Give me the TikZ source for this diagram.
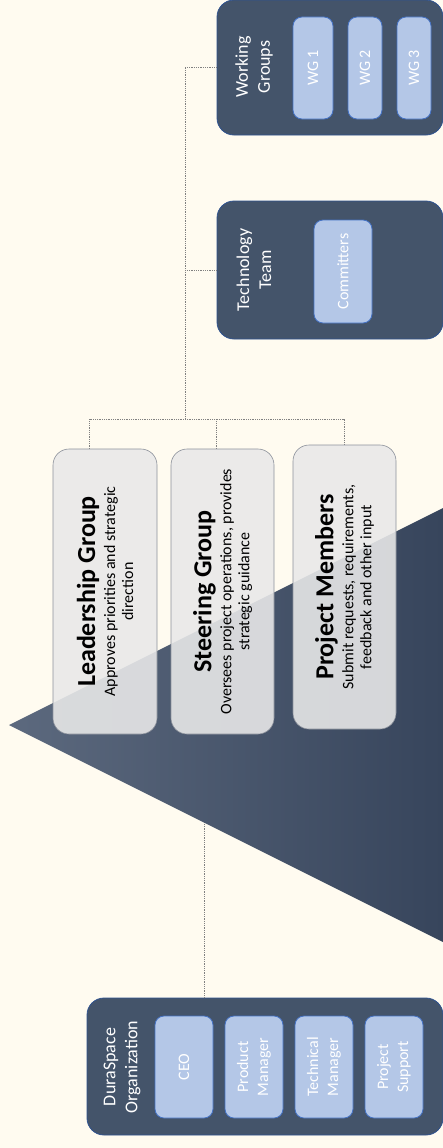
\documentclass[tikz,border=0pt]{standalone}
\usepackage{fontspec}
\setmainfont{Carlito}
\usetikzlibrary{calc}

\definecolor{paper}{RGB}{255,251,240}
\definecolor{slate}{RGB}{68,84,106}
\definecolor{slateedge}{RGB}{47,82,143}
\definecolor{paleblue}{RGB}{180,199,231}
\definecolor{paleedge}{RGB}{68,114,196}
\definecolor{cardfill}{RGB}{233,233,233}
\definecolor{cardedge}{RGB}{140,145,155}
\definecolor{wedgeL}{RGB}{92,105,126}
\definecolor{wedgeR}{RGB}{55,69,92}
\definecolor{linkgray}{RGB}{128,128,128}

\begin{document}
\begin{tikzpicture}[x=1pt,y=-1pt,
  team/.style={draw=slateedge, line width=0.8pt, fill=slate, rounded corners=17pt, inner sep=0pt},
  teamlabel/.style={rotate=90, text=white, align=center, font=\fontsize{18}{22}\selectfont, inner sep=0pt},
  role/.style={draw=paleedge, line width=0.8pt, fill=paleblue, rounded corners=9pt, rotate=90,
    text=white, align=center, font=\fontsize{16}{20}\selectfont, inner sep=0pt},
  card/.style={draw=cardedge, line width=0.6pt, fill=cardfill, fill opacity=0.89, text opacity=1,
    rounded corners=16pt, rotate=90, align=center, font=\fontsize{16}{18}\selectfont, inner sep=0pt},
  link/.style={draw=linkgray, line width=0.8pt, densely dotted}
]
% page
\useasboundingbox (0,0) rectangle (443,1148);
\fill[paper] (0,0) rectangle (443,1148);

% teams on the right
\node[team, minimum width=226pt, minimum height=135pt] (wg) at (330,67.5) {};
\node[teamlabel] (wgt) at (254,67) {Working\\Groups};
\node[role, minimum width=102pt, minimum height=40pt] (wg1) at (313,68) {WG 1};
\node[role, minimum width=102pt, minimum height=34pt] (wg2) at (365,68) {WG 2};
\node[role, minimum width=102pt, minimum height=34pt] (wg3) at (414,68) {WG 3};

\node[team, minimum width=226pt, minimum height=138pt] (tech) at (330,270) {};
\node[teamlabel] (techt) at (254,270) {Technology\\Team};
\node[role, minimum width=103pt, minimum height=58pt] (comm) at (343,271.5) {Committers};

% DuraSpace organization
\node[team, minimum width=356pt, minimum height=137pt] (dura) at (265,1066.5) {};
\node[teamlabel] (durat) at (122,1067) {DuraSpace\\Organization};
\node[role, minimum width=102pt, minimum height=58pt] (ceo) at (184,1067) {CEO};
\node[role, minimum width=102pt, minimum height=58pt] (pm) at (254,1067) {Product\\Manager};
\node[role, minimum width=102pt, minimum height=58pt] (tm) at (324,1067) {Technical\\Manager};
\node[role, minimum width=102pt, minimum height=58pt] (ps) at (394,1067) {Project\\Support};

% card centres and the points where the connectors meet them
\coordinate (leadc) at (105,591.5);
\coordinate (steerc) at (222.5,591.5);
\coordinate (membc) at (344.5,587);
\coordinate (leadtop) at (89,449);
\coordinate (steertop) at (216,449);
\coordinate (membtop) at (344,445);
\coordinate (hub) at (185,419);

% connectors
\draw[link] (wg.west) -| (hub);
\draw[link] (tech.west) -- (tech.west -| hub);
\draw[link] (leadtop) -- (leadtop |- hub) -- (membtop |- hub) -- (membtop);
\draw[link] (steertop) -- (steertop |- hub);

\coordinate (duratop) at ([xshift=-61pt]dura.north);
\coordinate (duraup) at (204,734);
\draw[link] (duratop) -- (duraup);

% wedge
\shade[left color=wedgeL, right color=wedgeR] (9,725) -- (443,508) -- (443,942) -- cycle;

% cards
\node[card, minimum width=285pt, minimum height=104pt] (lead) at (leadc)
  {{\fontsize{26}{26}\selectfont\bfseries Leadership Group}\\[2pt]Approves priorities and strategic\\direction};
\node[card, minimum width=285pt, minimum height=103pt] (steer) at (steerc)
  {{\fontsize{26}{26}\selectfont\bfseries Steering Group}\\[2pt]Oversees project operations, provides\\strategic guidance};
\node[card, minimum width=284pt, minimum height=103pt] (memb) at (membc)
  {{\fontsize{26}{26}\selectfont\bfseries Project Members}\\[2pt]Submit requests,  requirements,\\feedback and other input};
\end{tikzpicture}
\end{document}
